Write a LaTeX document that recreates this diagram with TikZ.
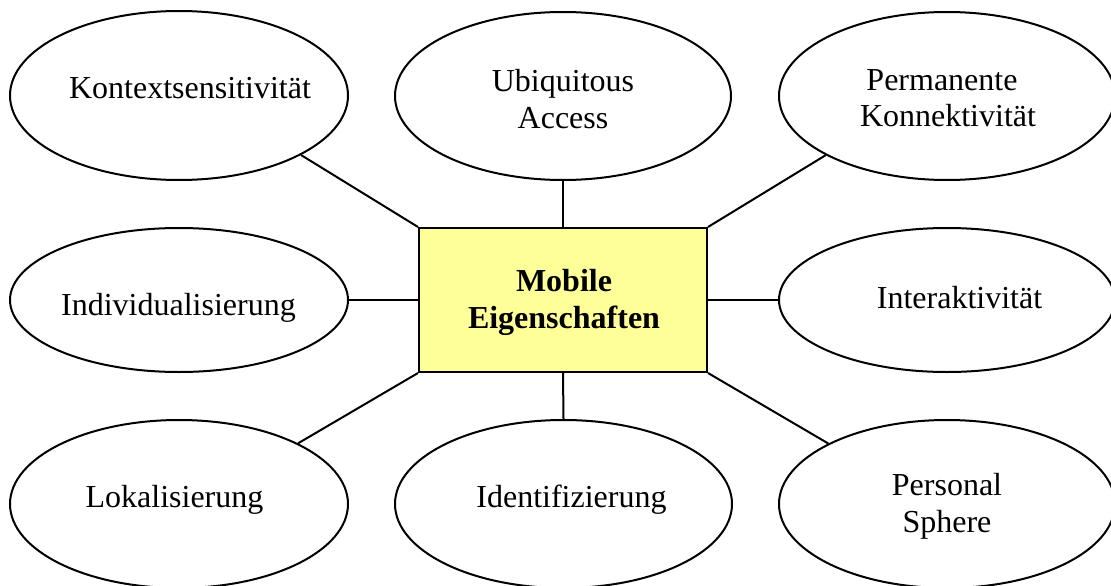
\documentclass[tikz,border=0pt]{standalone}
\usepackage{fontspec}
\setmainfont{Liberation Serif}
\usetikzlibrary{shapes.geometric}
\definecolor{hub}{HTML}{FFFF99}
\tikzset{
  bubble/.style={draw=black, ellipse, line width=2pt, inner sep=0pt, fill=white},
  hubbox/.style={draw=black, rectangle, line width=2pt, inner sep=0pt, fill=hub},
  lbl/.style={inner sep=0pt, anchor=base, font=\fontsize{32}{36.6}\selectfont},
  hublbl/.style={lbl, font=\fontsize{32}{36.6}\selectfont\bfseries},
  link/.style={draw=black, line width=2pt}
}
\begin{document}
\begin{tikzpicture}[x=1pt, y=-1pt]
\clip (0,0) rectangle (1111,586);
\fill[white] (0,0) rectangle (1111,586);

% central box
\node[hubbox, minimum width=288pt, minimum height=144pt] (hub) at (563,300) {};
\node[hublbl] (hubA) at (564,291) {Mobile};
\node[hublbl] (hubB) at (564,328) {Eigenschaften};

% surrounding properties
\node[bubble, minimum width=338pt, minimum height=169pt] (kon) at (179,95.5) {};
\node[bubble, minimum width=336pt, minimum height=168pt] (ubi) at (563,96) {};
\node[bubble, minimum width=336pt, minimum height=168pt] (per) at (947,96) {};
\node[bubble, minimum width=338pt, minimum height=144pt] (ind) at (179,300) {};
\node[bubble, minimum width=336pt, minimum height=144pt] (int) at (947,300) {};
\node[bubble, minimum width=338pt, minimum height=168pt] (lok) at (179,504) {};
\node[bubble, minimum width=337pt, minimum height=168pt] (ide) at (563.5,504) {};
\node[bubble, minimum width=336pt, minimum height=168pt] (pers) at (947,504) {};

% labels
\node[lbl] (konT) at (190,99) {Kontextsensitivität};
\node[lbl] (ubiA) at (563,92) {Ubiquitous};
\node[lbl] (ubiB) at (563,128) {Access};
\node[lbl] (perA) at (942,90) {Permanente};
\node[lbl] (perB) at (948,126) {Konnektivität};
\node[lbl] (indT) at (178.5,315) {Individualisierung};
\node[lbl] (intT) at (959.5,308) {Interaktivität};
\node[lbl] (lokT) at (174.5,507) {Lokalisierung};
\node[lbl] (ideT) at (571.5,507) {Identifizierung};
\node[lbl] (persA) at (947,495) {Personal};
\node[lbl] (persB) at (947,532) {Sphere};

% connectors
\draw[link] (hub.north west) -- (kon.-26);
\draw[link] (hub.north) -- (ubi.south);
\draw[link] (hub.north east) -- (per.-154);
\draw[link] (hub.west) -- (ind.east);
\draw[link] (hub.east) -- (int.west);
\draw[link] (hub.south west) -- (lok.27);
\draw[link] (hub.south) -- (ide.north);
\draw[link] (hub.south east) -- (pers.153);
\end{tikzpicture}
\end{document}
